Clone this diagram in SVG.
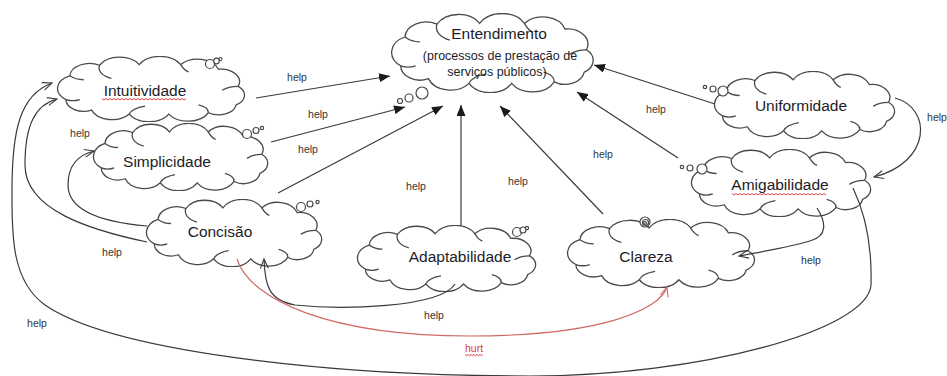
<svg xmlns="http://www.w3.org/2000/svg" xmlns:xlink="http://www.w3.org/1999/xlink" width="947" height="376" viewBox="0 0 947 376">
  <style>
    .cloud-outline { fill: #ffffff; stroke: #4a4a4a; stroke-width: 1.3; vector-effect: non-scaling-stroke; }
    .cloud-inner { fill: none; stroke: #4a4a4a; stroke-width: 1.3; vector-effect: non-scaling-stroke; }
    .bubble { fill: #ffffff; stroke: #4a4a4a; stroke-width: 1.2; }
    .name { font-family: "Liberation Sans", Arial, sans-serif; font-size: 15.5px; fill: #1c1c28; text-anchor: middle; }
    .sub { font-family: "Liberation Sans", Arial, sans-serif; font-size: 12.5px; fill: #1c1c28; text-anchor: middle; }
    .lbl { font-family: "Liberation Sans", Arial, sans-serif; font-size: 10.5px; fill: #333333; text-anchor: middle; }
    .hurt-lbl { font-family: "Liberation Sans", Arial, sans-serif; font-size: 10.5px; fill: #e0403a; text-anchor: middle; }
    .link { fill: none; stroke: #3a3a3a; stroke-width: 1.2; }
    .link-hurt { fill: none; stroke: #d26a66; stroke-width: 1.2; }
    .squiggle { fill: none; stroke: #e03030; stroke-width: 0.9; }
  </style>
  <defs>
    <!-- reusable cloud outline, stretched to each node box -->
    <symbol id="cloud" viewBox="2 0 194 100" preserveAspectRatio="none">
      <path class="cloud-outline" d="M12,66 A21,21 0 0 1 16,30 A20,20 0 0 1 46,14 A23,23 0 0 1 86,13 A24,24 0 0 1 128,13 A22,22 0 0 1 166,20 A19,19 0 0 1 186,46 A17,17 0 0 1 184,74 A18,18 0 0 1 156,86 A23,23 0 0 1 116,88 A23,23 0 0 1 76,88 A22,22 0 0 1 38,82 A18,18 0 0 1 12,66 Z"/>
      <path class="cloud-inner" d="M46,14 C44,22 48,30 58,34 M16,30 C20,34 24,36 30,36 M186,46 C180,46 174,48 170,52 M156,86 C156,80 152,76 146,74 M76,88 C78,82 84,78 92,76 M12,66 C16,68 22,68 26,66 M128,13 C130,18 132,22 136,24"/>
    </symbol>
    <marker id="tri" viewBox="0 0 11 9" refX="11" refY="4.5" markerWidth="11" markerHeight="9" markerUnits="userSpaceOnUse" orient="auto">
      <path d="M0,0 L11,4.5 L0,9 Z" fill="#1a1a1a"/>
    </marker>
    <marker id="open" viewBox="0 0 10 9" refX="9.5" refY="4.5" markerWidth="10" markerHeight="9" markerUnits="userSpaceOnUse" orient="auto" overflow="visible">
      <path d="M0,0.5 L9.5,4.5 L0,8.5" fill="none" stroke="#3a3a3a" stroke-width="1.1"/>
    </marker>
    <marker id="open-red" viewBox="0 0 10 9" refX="9.5" refY="4.5" markerWidth="10" markerHeight="9" markerUnits="userSpaceOnUse" orient="auto" overflow="visible">
      <path d="M0,0.5 L9.5,4.5 L0,8.5" fill="none" stroke="#d26a66" stroke-width="1.1"/>
    </marker>
  </defs>

  <rect x="0" y="0" width="947" height="376" fill="#ffffff"/>

  <!-- nodes -->
  <g id="entendimento">
    <use xlink:href="#cloud" x="390" y="13" width="207" height="80"/>
    <circle class="bubble" cx="400" cy="101" r="2.5"/>
    <circle class="bubble" cx="409" cy="98" r="4"/>
    <circle class="bubble" cx="422" cy="93" r="6"/>
    <text class="name" x="499" y="39">Entendimento</text>
    <text class="sub" x="500" y="60">(processos de prestação de</text>
    <text class="sub" x="497" y="76">serviços públicos)</text>
  </g>

  <g id="intuitividade">
    <use xlink:href="#cloud" x="56" y="56" width="192" height="66"/>
    <circle class="bubble" cx="210" cy="64" r="4.5"/>
    <circle class="bubble" cx="216.5" cy="61" r="2.8"/>
    <circle class="bubble" cx="220.5" cy="59" r="1.5"/>
    <text class="name" x="145" y="96">Intuitividade</text>
    <path class="squiggle" d="M102,98.5 l2,1.5 l2,-1.5 l2,1.5 l2,-1.5 l2,1.5 l2,-1.5 l2,1.5 l2,-1.5 l2,1.5 l2,-1.5 l2,1.5 l2,-1.5 l2,1.5 l2,-1.5 l2,1.5 l2,-1.5 l2,1.5 l2,-1.5 l2,1.5 l2,-1.5 l2,1.5 l2,-1.5 l2,1.5 l2,-1.5 l2,1.5 l2,-1.5 l2,1.5 l2,-1.5 l2,1.5 l2,-1.5 l2,1.5 l2,-1.5 l2,1.5 l2,-1.5 l2,1.5 l2,-1.5 l2,1.5 l2,-1.5 l2,1.5 l2,-1.5 l2,1.5 l2,-1.5"/>
  </g>

  <g id="simplicidade">
    <use xlink:href="#cloud" x="92" y="123" width="179" height="68"/>
    <circle class="bubble" cx="247" cy="134" r="4.5"/>
    <circle class="bubble" cx="256" cy="130.5" r="3"/>
    <circle class="bubble" cx="262" cy="128" r="1.7"/>
    <text class="name" x="167" y="167">Simplicidade</text>
  </g>

  <g id="concisao">
    <use xlink:href="#cloud" x="145" y="199" width="180" height="68"/>
    <circle class="bubble" cx="301" cy="207" r="4.5"/>
    <circle class="bubble" cx="310" cy="204" r="3"/>
    <circle class="bubble" cx="317.5" cy="202" r="1.6"/>
    <text class="name" x="220" y="237">Concisão</text>
  </g>

  <g id="adaptabilidade">
    <use xlink:href="#cloud" x="356" y="225" width="183" height="67"/>
    <circle class="bubble" cx="517" cy="232" r="4.5"/>
    <circle class="bubble" cx="523" cy="230" r="3"/>
    <circle class="bubble" cx="527" cy="228" r="1.6"/>
    <text class="name" x="460" y="262">Adaptabilidade</text>
  </g>

  <g id="clareza">
    <use xlink:href="#cloud" x="566" y="219" width="192" height="69"/>
    <circle class="bubble" cx="645" cy="222" r="5"/>
    <circle class="bubble" cx="645.5" cy="222.5" r="3"/>
    <circle class="bubble" cx="645" cy="223" r="1.4"/>
    <text class="name" x="646" y="262">Clareza</text>
  </g>

  <g id="uniformidade">
    <use xlink:href="#cloud" x="713" y="71" width="185" height="68"/>
    <circle class="bubble" cx="705" cy="87" r="1.7"/>
    <circle class="bubble" cx="713" cy="89" r="3"/>
    <circle class="bubble" cx="723" cy="91" r="5"/>
    <text class="name" x="801" y="111">Uniformidade</text>
  </g>

  <g id="amigabilidade">
    <use xlink:href="#cloud" x="690" y="149" width="184" height="68"/>
    <circle class="bubble" cx="682" cy="167" r="1.7"/>
    <circle class="bubble" cx="690" cy="168" r="3"/>
    <circle class="bubble" cx="702" cy="169" r="5"/>
    <text class="name" x="780" y="190">Amigabilidade</text>
    <path class="squiggle" d="M732,193.5 l2,1.5 l2,-1.5 l2,1.5 l2,-1.5 l2,1.5 l2,-1.5 l2,1.5 l2,-1.5 l2,1.5 l2,-1.5 l2,1.5 l2,-1.5 l2,1.5 l2,-1.5 l2,1.5 l2,-1.5 l2,1.5 l2,-1.5 l2,1.5 l2,-1.5 l2,1.5 l2,-1.5 l2,1.5 l2,-1.5 l2,1.5 l2,-1.5 l2,1.5 l2,-1.5 l2,1.5 l2,-1.5 l2,1.5 l2,-1.5 l2,1.5 l2,-1.5 l2,1.5 l2,-1.5 l2,1.5 l2,-1.5 l2,1.5 l2,-1.5 l2,1.5 l2,-1.5 l2,1.5 l2,-1.5 l2,1.5 l2,-1.5 l2,1.5"/>
  </g>

  <!-- connectors -->
  <g id="connectors">
    <path class="link" d="M256,98 L390,76" marker-end="url(#tri)"/>
    <path class="link" d="M271,142 L405,107" marker-end="url(#tri)"/>
    <path class="link" d="M278,193 L443,106" marker-end="url(#tri)"/>
    <path class="link" d="M461,226 L461,105" marker-end="url(#tri)"/>
    <path class="link" d="M603,214 L500,106" marker-end="url(#tri)"/>
    <path class="link" d="M678,158 L577,92" marker-end="url(#tri)"/>
    <path class="link" d="M715,104 L594,65" marker-end="url(#tri)"/>
    <path class="link" d="M895,98 C932,108 932,162 874,177" marker-end="url(#open)"/>
    <path class="link" d="M817,208 C826,222 828,236 810,241 C790,247 760,252 739,256" marker-end="url(#open)"/>
    <path class="link" d="M853,188 C866,215 872,250 871,285 C868,330 700,376 530,376 C320,376 110,350 45,305 C10,280 12,230 12,190 C12,130 20,95 52,83" marker-end="url(#open)"/>
    <path class="link" d="M147,242 C90,230 25,210 25,165 C25,125 35,105 57,99" marker-end="url(#open)"/>
    <path class="link" d="M147,226 C100,222 68,210 68,185 C68,165 78,155 94,151" marker-end="url(#open)"/>
    <path class="link" d="M455,284 C440,308 340,310 295,305 C268,300 265,285 264,259" marker-end="url(#open)"/>
    <path class="link-hurt" d="M237,259 C250,300 330,336 470,336 C600,336 660,310 667,287" marker-end="url(#open-red)"/>

    <text class="lbl" x="297" y="81">help</text>
    <text class="lbl" x="318" y="118">help</text>
    <text class="lbl" x="308" y="153">help</text>
    <text class="lbl" x="416" y="190">help</text>
    <text class="lbl" x="518" y="185">help</text>
    <text class="lbl" x="603" y="158">help</text>
    <text class="lbl" x="656" y="113">help</text>
    <text class="lbl" x="937" y="121">help</text>
    <text class="lbl" x="80" y="137">help</text>
    <text class="lbl" x="112" y="256">help</text>
    <text class="lbl" x="811" y="264">help</text>
    <text class="lbl" x="434" y="319">help</text>
    <text class="lbl" x="37" y="327">help</text>
    <text class="hurt-lbl" x="474" y="352">hurt</text>
    <path class="squiggle" d="M465,354.5 l1.5,1.2 l1.5,-1.2 l1.5,1.2 l1.5,-1.2 l1.5,1.2 l1.5,-1.2 l1.5,1.2 l1.5,-1.2 l1.5,1.2 l1.5,-1.2 l1.5,1.2 l1.5,-1.2"/>
  </g>
</svg>
